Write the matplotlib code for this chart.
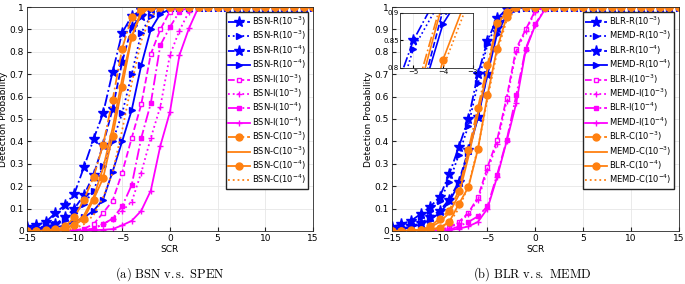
import matplotlib
matplotlib.use("Agg")
import matplotlib.pyplot as plt
import numpy as np

scr = np.arange(-15, 16)

# ---- (a) BSN v.s. SPEN ----
bsn_r3_star = [.018, .025, .04, .08, .115, .167, .285, .41, .525, .71, .885, .96, .985, 1, 1, 1, 1, 1, 1, 1, 1, 1, 1, 1, 1, 1, 1, 1, 1, 1, 1]
bsn_r3_tri = [.005, .01, .02, .03, .05, .08, .12, .18, .29, .40, .525, .70, .885, .96, .99, 1, 1, 1, 1, 1, 1, 1, 1, 1, 1, 1, 1, 1, 1, 1, 1]
bsn_r4_star = [.005, .01, .015, .03, .06, .10, .16, .25, .385, .545, .755, .91, .96, .99, 1, 1, 1, 1, 1, 1, 1, 1, 1, 1, 1, 1, 1, 1, 1, 1, 1]
bsn_r4_tri = [.002, .004, .008, .015, .025, .04, .06, .09, .14, .265, .40, .54, .74, .90, .97, .99, 1, 1, 1, 1, 1, 1, 1, 1, 1, 1, 1, 1, 1, 1, 1]
bsn_i3_sq = [0, 0, 0, 0, 0, .002, .01, .03, .08, .135, .26, .415, .565, .79, .90, .98, 1, 1, 1, 1, 1, 1, 1, 1, 1, 1, 1, 1, 1, 1, 1]
bsn_i3_pl = [0, 0, 0, 0, 0, 0, .003, .01, .03, .055, .09, .13, .26, .415, .555, .785, .895, .98, 1, 1, 1, 1, 1, 1, 1, 1, 1, 1, 1, 1, 1]
bsn_i4_sq = [0, 0, 0, 0, 0, 0, .003, .01, .03, .055, .11, .205, .415, .57, .83, .91, .98, 1, 1, 1, 1, 1, 1, 1, 1, 1, 1, 1, 1, 1, 1]
bsn_i4_pl = [0, 0, 0, 0, 0, 0, 0, .003, .005, .008, .025, .045, .09, .18, .38, .53, .785, .905, 1, 1, 1, 1, 1, 1, 1, 1, 1, 1, 1, 1, 1]
bsn_c3_o = [0, 0, .002, .008, .02, .06, .14, .24, .385, .585, .815, .955, .99, 1, 1, 1, 1, 1, 1, 1, 1, 1, 1, 1, 1, 1, 1, 1, 1, 1, 1]
bsn_c3_line = [0, 0, .001, .004, .01, .03, .07, .15, .28, .46, .68, .87, .97, 1, 1, 1, 1, 1, 1, 1, 1, 1, 1, 1, 1, 1, 1, 1, 1, 1, 1]
bsn_c4_o = [0, 0, 0, .004, .01, .025, .055, .14, .235, .425, .645, .865, .985, 1, 1, 1, 1, 1, 1, 1, 1, 1, 1, 1, 1, 1, 1, 1, 1, 1, 1]
bsn_c4_line = [0, 0, 0, 0, .005, .01, .03, .07, .15, .26, .45, .66, .85, .96, .99, 1, 1, 1, 1, 1, 1, 1, 1, 1, 1, 1, 1, 1, 1, 1, 1]

# ---- (b) BLR v.s. MEMD ----
blr_r3 = [.018, .03, .045, .075, .107, .152, .253, .375, .50, .70, .85, .95, .99, 1, 1, 1, 1, 1, 1, 1, 1, 1, 1, 1, 1, 1, 1, 1, 1, 1, 1]
memd_r3 = [.01, .02, .035, .06, .09, .135, .22, .34, .47, .66, .835, .93, .985, 1, 1, 1, 1, 1, 1, 1, 1, 1, 1, 1, 1, 1, 1, 1, 1, 1, 1]
blr_r4 = [.005, .01, .02, .035, .06, .09, .14, .22, .36, .51, .70, .905, .97, .995, 1, 1, 1, 1, 1, 1, 1, 1, 1, 1, 1, 1, 1, 1, 1, 1, 1]
memd_r4 = [.003, .008, .015, .03, .05, .08, .13, .21, .35, .505, .70, .88, .965, .995, 1, 1, 1, 1, 1, 1, 1, 1, 1, 1, 1, 1, 1, 1, 1, 1, 1]
blr_i3 = [0, 0, 0, 0, .001, .005, .015, .04, .08, .15, .285, .405, .595, .815, .90, .985, 1, 1, 1, 1, 1, 1, 1, 1, 1, 1, 1, 1, 1, 1, 1]
memd_i3 = [0, 0, 0, 0, .001, .004, .012, .035, .075, .14, .27, .39, .58, .80, .895, .98, 1, 1, 1, 1, 1, 1, 1, 1, 1, 1, 1, 1, 1, 1, 1]
blr_i4 = [0, 0, 0, 0, 0, .001, .005, .02, .04, .065, .11, .25, .405, .605, .815, .925, .99, 1, 1, 1, 1, 1, 1, 1, 1, 1, 1, 1, 1, 1, 1]
memd_i4 = [0, 0, 0, 0, 0, 0, .003, .01, .02, .04, .10, .24, .40, .57, .81, .92, .99, 1, 1, 1, 1, 1, 1, 1, 1, 1, 1, 1, 1, 1, 1]
blr_c3 = [0, 0, .002, .005, .02, .055, .09, .18, .36, .55, .74, .93, .98, 1, 1, 1, 1, 1, 1, 1, 1, 1, 1, 1, 1, 1, 1, 1, 1, 1, 1]
memd_c3 = [0, 0, .002, .004, .015, .04, .08, .16, .33, .52, .72, .92, .98, 1, 1, 1, 1, 1, 1, 1, 1, 1, 1, 1, 1, 1, 1, 1, 1, 1, 1]
blr_c4 = [0, 0, 0, .002, .006, .015, .04, .12, .195, .365, .605, .815, .955, 1, 1, 1, 1, 1, 1, 1, 1, 1, 1, 1, 1, 1, 1, 1, 1, 1, 1]
memd_c4 = [0, 0, 0, .002, .005, .012, .035, .10, .20, .37, .59, .80, .94, .99, 1, 1, 1, 1, 1, 1, 1, 1, 1, 1, 1, 1, 1, 1, 1, 1, 1]

blue = "#0000ff"
pink = "#ff00ff"
orange = "#ff8010"

# (color, linestyle, marker, marker size, filled)
styles = [
    (blue, "-.", "*", 8, True),
    (blue, ":", ">", 5, True),
    (blue, "--", "*", 8, True),
    (blue, "-", ">", 5, True),
    (pink, "--", "s", 3.5, False),
    (pink, ":", "+", 4, True),
    (pink, "-.", "s", 3.5, True),
    (pink, "-", "+", 4, True),
    (orange, "-.", "o", 5, True),
    (orange, "-", None, 0, True),
    (orange, "-", "o", 5, True),
    (orange, ":", None, 0, True),
]

left_series = [bsn_r3_star, bsn_r3_tri, bsn_r4_star, bsn_r4_tri,
               bsn_i3_sq, bsn_i3_pl, bsn_i4_sq, bsn_i4_pl,
               bsn_c3_o, bsn_c3_line, bsn_c4_o, bsn_c4_line]
left_labels = ["BSN-R($10^{-3}$)", "BSN-R($10^{-3}$)", "BSN-R($10^{-4}$)", "BSN-R($10^{-4}$)",
               "BSN-I($10^{-3}$)", "BSN-I($10^{-3}$)", "BSN-I($10^{-4}$)", "BSN-I($10^{-4}$)",
               "BSN-C($10^{-3}$)", "BSN-C($10^{-3}$)", "BSN-C($10^{-4}$)", "BSN-C($10^{-4}$)"]

right_series = [blr_r3, memd_r3, blr_r4, memd_r4,
                blr_i3, memd_i3, blr_i4, memd_i4,
                blr_c3, memd_c3, blr_c4, memd_c4]
right_labels = ["BLR-R($10^{-3}$)", "MEMD-R($10^{-3}$)", "BLR-R($10^{-4}$)", "MEMD-R($10^{-4}$)",
                "BLR-I($10^{-3}$)", "MEMD-I($10^{-3}$)", "BLR-I($10^{-4}$)", "MEMD-I($10^{-4}$)",
                "BLR-C($10^{-3}$)", "MEMD-C($10^{-3}$)", "BLR-C($10^{-4}$)", "MEMD-C($10^{-4}$)"]


def draw(ax, series, labels, lw=1.3):
    for ys, lab, (c, ls, m, ms, filled) in zip(series, labels, styles):
        ax.plot(scr, ys, color=c, linestyle=ls, marker=m, markersize=ms, lw=lw,
                markerfacecolor=c if filled else "white", markeredgecolor=c,
                markeredgewidth=1.0, label=lab)


def style(ax):
    ax.set_xlim(-15, 15)
    ax.set_ylim(0, 1)
    ax.set_xticks(np.arange(-15, 16, 5))
    ax.set_yticks(np.arange(0, 1.01, 0.1))
    ax.set_yticklabels(["0"] + ["%.1f" % v for v in np.arange(0.1, 0.95, 0.1)] + ["1"])
    ax.grid(True, color="#e6e6e6", lw=0.6)
    ax.set_axisbelow(True)
    ax.tick_params(direction="in", labelsize=6.5, length=3, pad=2, color="#262626")
    for s in ax.spines.values():
        s.set_color("#262626")
        s.set_linewidth(0.6)
    ax.set_xlabel("SCR", fontsize=6.5, labelpad=2)
    ax.set_ylabel("Detection Probability", fontsize=6.5, labelpad=1)
    ax.legend(loc="upper right", fontsize=6.0, handlelength=2.6, labelspacing=0.12,
              borderpad=0.3, handletextpad=0.25, borderaxespad=0.6, fancybox=False,
              edgecolor="#262626", framealpha=1)


fig = plt.figure(figsize=(6.85, 2.84), dpi=100)

ax1 = fig.add_axes([0.039, 0.187, 0.418, 0.788])
draw(ax1, left_series, left_labels)
style(ax1)

ax2 = fig.add_axes([0.572, 0.187, 0.419, 0.788])
draw(ax2, right_series, right_labels)
style(ax2)

# zoomed inset in (b)
axin = fig.add_axes([0.584, 0.761, 0.106, 0.194])
draw(axin, right_series, right_labels, lw=1.2)
axin.set_xlim(-5.45, -3.05)
axin.set_ylim(0.8, 0.9)
axin.set_xticks([-5, -4, -3])
axin.set_yticks([0.8, 0.85, 0.9])
axin.set_yticklabels(["0.8", "0.85", "0.9"])
axin.grid(True, color="#e6e6e6", lw=0.5)
axin.tick_params(direction="in", labelsize=5, length=2, pad=1)
for s in axin.spines.values():
    s.set_color("#262626")
    s.set_linewidth(0.6)

fig.text(0.248, 0.022, r"$\mathrm{(a)\ BSN\ v.s.\ SPEN}$", ha="center", fontsize=9,
         math_fontfamily="cm")
fig.text(0.777, 0.022, r"$\mathrm{(b)\ BLR\ v.s.\ MEMD}$", ha="center", fontsize=9,
         math_fontfamily="cm")

fig.savefig("out.png", dpi=100)
